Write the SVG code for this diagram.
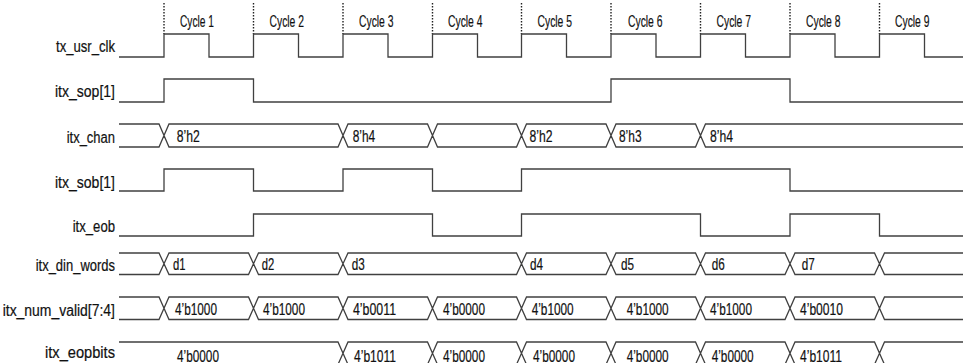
<svg xmlns="http://www.w3.org/2000/svg" width="963" height="363" viewBox="0 0 963 363">
<style>
.w{fill:none;stroke:#404040;stroke-width:1.3;stroke-linejoin:miter}
.dot{fill:none;stroke:#222;stroke-width:1.4;stroke-dasharray:1.4 1.6}
.t{font-family:"Liberation Sans",Arial,sans-serif;font-size:16px;fill:#111;stroke:#111;stroke-width:0.2}
</style>
<rect width="963" height="363" fill="#fff"/>
<g id="cycles">
<path class="dot" d="M164,3V34M253.5,3V34M343,3V34M432.5,3V34M521.5,3V34M611,3V34M700.5,3V34M790,3V34M879.5,3V34"/>
<text class="t" x="180" y="27" textLength="34" lengthAdjust="spacingAndGlyphs">Cycle 1</text>
<text class="t" x="269.5" y="27" textLength="34.5" lengthAdjust="spacingAndGlyphs">Cycle 2</text>
<text class="t" x="359" y="27" textLength="34.5" lengthAdjust="spacingAndGlyphs">Cycle 3</text>
<text class="t" x="448" y="27" textLength="34.5" lengthAdjust="spacingAndGlyphs">Cycle 4</text>
<text class="t" x="537.5" y="27" textLength="34.5" lengthAdjust="spacingAndGlyphs">Cycle 5</text>
<text class="t" x="628" y="27" textLength="34.5" lengthAdjust="spacingAndGlyphs">Cycle 6</text>
<text class="t" x="716.5" y="27" textLength="34.5" lengthAdjust="spacingAndGlyphs">Cycle 7</text>
<text class="t" x="806" y="27" textLength="34.5" lengthAdjust="spacingAndGlyphs">Cycle 8</text>
<text class="t" x="895" y="27" textLength="34.5" lengthAdjust="spacingAndGlyphs">Cycle 9</text>
</g>
<g id="tx_usr_clk">
<text class="t" x="56" y="52" textLength="59" lengthAdjust="spacingAndGlyphs">tx_usr_clk</text>
<path class="w" d="M119,57H164V34H209V57H253.5V34H298.5V57H343V34H388V57H432.5V34H477.5V57H521.5V34H566.5V57H611V34H656V57H700.5V34H745.5V57H790V34H835V57H879.5V34H924.5V57H963"/>
</g>
<g id="itx_sop">
<text class="t" x="55" y="97" textLength="60" lengthAdjust="spacingAndGlyphs">itx_sop[1]</text>
<path class="w" d="M119,102H164V79H253.5V102H611V79H790V102H963"/>
</g>
<g id="itx_chan">
<text class="t" x="66.7" y="142.5" textLength="48.3" lengthAdjust="spacingAndGlyphs">itx_chan</text>
<path class="w" d="M119,124H159L164,135.5L159,147H119M164,135.5L169,124H338L343,135.5L338,147H169ZM343,135.5L348,124H427.5L432.5,135.5L427.5,147H348ZM432.5,135.5L437.5,124H516.5L521.5,135.5L516.5,147H437.5ZM521.5,135.5L526.5,124H606L611,135.5L606,147H526.5ZM611,135.5L616,124H695.5L700.5,135.5L695.5,147H616ZM963,124H705.5L700.5,135.5L705.5,147H963"/>
<text class="t" x="176.7" y="141.5" textLength="23" lengthAdjust="spacingAndGlyphs">8’h2</text>
<text class="t" x="352.7" y="141.5" textLength="22.5" lengthAdjust="spacingAndGlyphs">8’h4</text>
<text class="t" x="529.5" y="141.5" textLength="23" lengthAdjust="spacingAndGlyphs">8’h2</text>
<text class="t" x="619" y="141.5" textLength="22.5" lengthAdjust="spacingAndGlyphs">8’h3</text>
<text class="t" x="710" y="141.5" textLength="23" lengthAdjust="spacingAndGlyphs">8’h4</text>
</g>
<g id="itx_sob">
<text class="t" x="55" y="188" textLength="60" lengthAdjust="spacingAndGlyphs">itx_sob[1]</text>
<path class="w" d="M119,191H164V169H253.5V191H343V169H432.5V191H521.5V169H790V191H963"/>
</g>
<g id="itx_eob">
<text class="t" x="72.7" y="232" textLength="42.3" lengthAdjust="spacingAndGlyphs">itx_eob</text>
<path class="w" d="M119,236H253.5V214H432.5V236H521.5V214H700.5V236H790V214H879.5V236H963"/>
</g>
<g id="itx_din_words">
<text class="t" x="35.7" y="270.5" textLength="79.3" lengthAdjust="spacingAndGlyphs">itx_din_words</text>
<path class="w" d="M119,253H159L164,263.75L159,274.5H119M164,263.75L169,253H248.5L253.5,263.75L248.5,274.5H169ZM253.5,263.75L258.5,253H338L343,263.75L338,274.5H258.5ZM343,263.75L348,253H516.5L521.5,263.75L516.5,274.5H348ZM521.5,263.75L526.5,253H606L611,263.75L606,274.5H526.5ZM611,263.75L616,253H695.5L700.5,263.75L695.5,274.5H616ZM700.5,263.75L705.5,253H785L790,263.75L785,274.5H705.5ZM790,263.75L795,253H874.5L879.5,263.75L874.5,274.5H795ZM963,253H884.5L879.5,263.75L884.5,274.5H963"/>
<text class="t" x="173" y="270" textLength="12.5" lengthAdjust="spacingAndGlyphs">d1</text>
<text class="t" x="261.7" y="270" textLength="12.5" lengthAdjust="spacingAndGlyphs">d2</text>
<text class="t" x="351.7" y="270" textLength="13" lengthAdjust="spacingAndGlyphs">d3</text>
<text class="t" x="530" y="270" textLength="13" lengthAdjust="spacingAndGlyphs">d4</text>
<text class="t" x="621" y="270" textLength="13" lengthAdjust="spacingAndGlyphs">d5</text>
<text class="t" x="711.7" y="270" textLength="13" lengthAdjust="spacingAndGlyphs">d6</text>
<text class="t" x="801.7" y="270" textLength="13" lengthAdjust="spacingAndGlyphs">d7</text>
</g>
<g id="itx_num_valid">
<text class="t" x="2.7" y="315.5" textLength="112.3" lengthAdjust="spacingAndGlyphs">itx_num_valid[7:4]</text>
<path class="w" d="M119,297H159L164,308.25L159,319.5H119M164,308.25L169,297H248.5L253.5,308.25L248.5,319.5H169ZM253.5,308.25L258.5,297H338L343,308.25L338,319.5H258.5ZM343,308.25L348,297H427.5L432.5,308.25L427.5,319.5H348ZM432.5,308.25L437.5,297H516.5L521.5,308.25L516.5,319.5H437.5ZM521.5,308.25L526.5,297H606L611,308.25L606,319.5H526.5ZM611,308.25L616,297H695.5L700.5,308.25L695.5,319.5H616ZM700.5,308.25L705.5,297H785L790,308.25L785,319.5H705.5ZM790,308.25L795,297H874.5L879.5,308.25L874.5,319.5H795ZM963,297H884.5L879.5,308.25L884.5,319.5H963"/>
<text class="t" x="175" y="315" textLength="42" lengthAdjust="spacingAndGlyphs">4’b1000</text>
<text class="t" x="263" y="315" textLength="42" lengthAdjust="spacingAndGlyphs">4’b1000</text>
<text class="t" x="353" y="315" textLength="43" lengthAdjust="spacingAndGlyphs">4’b0011</text>
<text class="t" x="443" y="315" textLength="42" lengthAdjust="spacingAndGlyphs">4’b0000</text>
<text class="t" x="531.7" y="315" textLength="42" lengthAdjust="spacingAndGlyphs">4’b1000</text>
<text class="t" x="626.7" y="315" textLength="42" lengthAdjust="spacingAndGlyphs">4’b1000</text>
<text class="t" x="710" y="315" textLength="42" lengthAdjust="spacingAndGlyphs">4’b1000</text>
<text class="t" x="800" y="315" textLength="43" lengthAdjust="spacingAndGlyphs">4’b0010</text>
</g>
<g id="itx_eopbits">
<text class="t" x="45" y="357.5" textLength="70" lengthAdjust="spacingAndGlyphs">itx_eopbits</text>
<path class="w" d="M119,342H338L343,353.25L338,364.5M343,353.25L348,342H427.5L432.5,353.25L427.5,364.5M348,364.5L343,353.25M432.5,353.25L437.5,342H516.5L521.5,353.25L516.5,364.5M437.5,364.5L432.5,353.25M521.5,353.25L526.5,342H606L611,353.25L606,364.5M526.5,364.5L521.5,353.25M611,353.25L616,342H695.5L700.5,353.25L695.5,364.5M616,364.5L611,353.25M700.5,353.25L705.5,342H785L790,353.25L785,364.5M705.5,364.5L700.5,353.25M790,353.25L795,342H874.5L879.5,353.25L874.5,364.5M795,364.5L790,353.25M963,342H884.5L879.5,353.25L884.5,364.5"/>
<text class="t" x="177" y="361.5" textLength="42" lengthAdjust="spacingAndGlyphs">4’b0000</text>
<text class="t" x="354" y="361.5" textLength="42" lengthAdjust="spacingAndGlyphs">4’b1011</text>
<text class="t" x="443" y="361.5" textLength="42" lengthAdjust="spacingAndGlyphs">4’b0000</text>
<text class="t" x="533" y="361.5" textLength="42" lengthAdjust="spacingAndGlyphs">4’b0000</text>
<text class="t" x="626.7" y="361.5" textLength="42" lengthAdjust="spacingAndGlyphs">4’b0000</text>
<text class="t" x="711.7" y="361.5" textLength="42" lengthAdjust="spacingAndGlyphs">4’b0000</text>
<text class="t" x="800" y="361.5" textLength="42" lengthAdjust="spacingAndGlyphs">4’b1011</text>
</g>
</svg>
